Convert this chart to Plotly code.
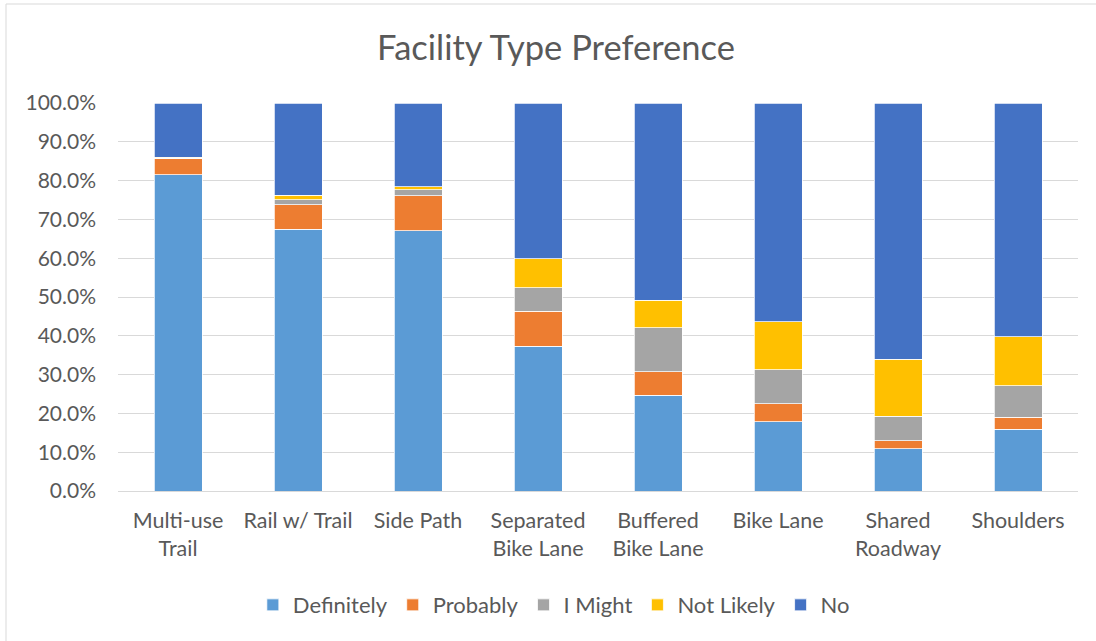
import plotly.graph_objects as go

categories = ["Multi-use<br>Trail", "Rail w/ Trail", "Side Path", "Separated<br>Bike Lane",
              "Buffered<br>Bike Lane", "Bike Lane", "Shared<br>Roadway", "Shoulders"]
definitely = [81.5, 67.4, 67.1, 37.3, 24.7, 17.9, 10.9, 15.9]
probably = [4.1, 6.4, 9.0, 9.0, 6.1, 4.6, 2.1, 3.1]
i_might = [0.1, 1.3, 1.6, 6.1, 11.3, 8.8, 6.3, 8.1]
not_likely = [0.3, 1.1, 0.7, 7.4, 7.1, 12.3, 14.7, 12.7]
no = [14.0, 23.8, 21.6, 40.2, 50.8, 56.4, 66.0, 60.2]

series = [("Definitely", definitely, "#5b9bd5"),
          ("Probably", probably, "#ed7d31"),
          ("I Might", i_might, "#a5a5a5"),
          ("Not Likely", not_likely, "#ffc000"),
          ("No", no, "#4472c4")]

font_family = "Lato, Carlito, Calibri, sans-serif"
text_color = "#595959"

fig = go.Figure()
for name, vals, color in series:
    fig.add_trace(go.Bar(
        x=categories, y=[v / 100 for v in vals], name=name,
        marker=dict(color=color, line=dict(color="white", width=0.75)),
    ))

fig.update_layout(
    barmode="stack",
    bargap=0.6,
    width=1096, height=641,
    margin=dict(l=118, r=18, t=103, b=150),
    paper_bgcolor="white", plot_bgcolor="white",
    font=dict(family=font_family, color=text_color, size=21),
    title=dict(text="Facility Type Preference", x=556 / 1096, xanchor="center",
               y=1 - 48 / 641, yanchor="middle",
               font=dict(size=34.5, color=text_color, family=font_family)),
    legend=dict(orientation="h", x=0.454, xanchor="center", y=-0.294, yanchor="middle",
                font=dict(size=22, color=text_color), traceorder="normal",
                itemwidth=30),
    yaxis=dict(range=[0, 1], tickformat=".1%", dtick=0.1, gridcolor="#d9d9d9",
               gridwidth=1, zeroline=False, showline=False, ticks="",
               tickfont=dict(size=21), ticklabelstandoff=21),
    xaxis=dict(showline=True, linecolor="#d9d9d9", linewidth=1, ticks="",
               tickfont=dict(size=21.5), ticklabelstandoff=10),
    shapes=[dict(type="rect", xref="paper", yref="paper",
                 x0=(6 - 118) / 960, x1=(1110 - 118) / 960,
                 y0=(491 - 660) / 388, y1=(491 - 4) / 388,
                 line=dict(color="#d9d9d9", width=1), layer="below")],
)

fig.write_html("out.html", config={"displayModeBar": False},
               post_script="document.body.style.margin='0';")
